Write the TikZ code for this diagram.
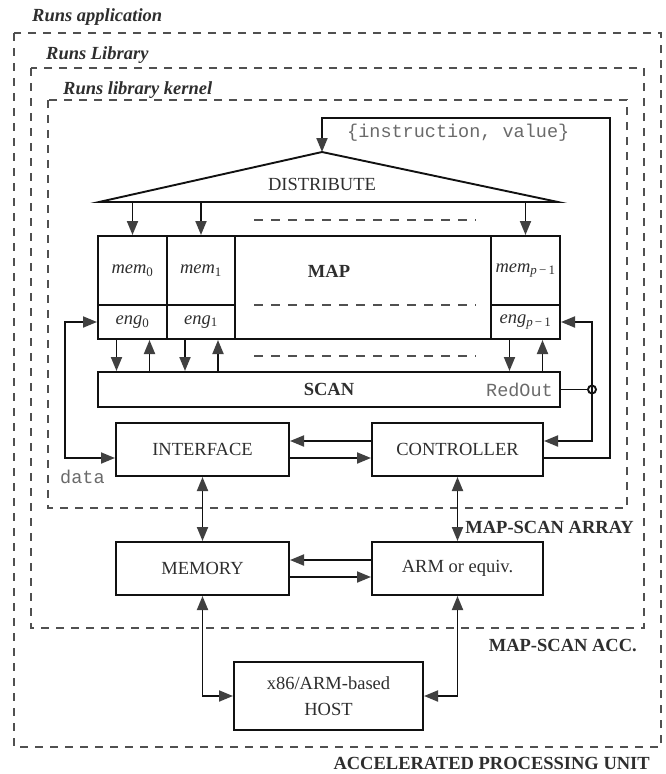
\documentclass[tikz,border=0pt]{standalone}
\usepackage{fontspec}
\setmainfont{Liberation Serif}
\setmonofont{Liberation Mono}
\usetikzlibrary{arrows.meta}
\definecolor{linec}{HTML}{111111}
\definecolor{tipc}{HTML}{404040}
\definecolor{txt}{HTML}{2E2E2E}
\definecolor{dashc}{HTML}{505050}
\definecolor{monoc}{HTML}{6A6A6A}
\tikzset{
  fnt/.style={font=\fontsize{18.5}{26}\selectfont},
  box/.style={draw=linec, line width=2pt, inner sep=0pt, align=center, fnt, text=txt},
  cell/.style={box, font=\fontsize{18.5}{22}\selectfont\itshape},
  grp/.style={draw=dashc, line width=1.3pt, dash pattern=on 8pt off 7pt},
  conn/.style={draw=linec, line width=1.9pt},
  arr/.style={conn, -{Triangle[length=14pt,width=11pt,color=tipc]}},
  darr/.style={conn, {Triangle[length=14pt,width=11pt,color=tipc]}-{Triangle[length=14pt,width=11pt,color=tipc]}},
  lbl/.style={font=\fontsize{18.5}{22}\selectfont\bfseries\itshape, anchor=base west, inner sep=0pt, text=txt},
  tag/.style={font=\fontsize{18.5}{22}\selectfont\bfseries, anchor=base east, inner sep=0pt, text=txt},
  mono/.style={font=\fontsize{18.5}{22}\selectfont\ttfamily, inner sep=0pt, text=monoc},
  plain/.style={fnt, inner sep=0pt, text=txt},
}
\begin{document}
\begin{tikzpicture}[x=1pt,y=-1pt]
\useasboundingbox (0,0) rectangle (665,774);

% grouping boxes
\draw[grp] (14,33) rectangle (661,747);
\draw[grp] (31,68) rectangle (644,628);
\draw[grp] (48,100) rectangle (627,508);
\node[lbl] (tApp) at (32,21) {Runs application};
\node[lbl] (tLib) at (46,59) {Runs Library};
\node[lbl] (tKer) at (63,94) {Runs library kernel};
\node[tag] (tArr) at (634,533) {MAP-SCAN ARRAY};
\node[tag] (tAcc) at (637,651) {MAP-SCAN ACC.};
\node[tag] (tApu) at (650,769) {ACCELERATED PROCESSING UNIT};

% distribute triangle
\coordinate (apex) at (322,152);
\coordinate (bl) at (99,202);
\coordinate (br) at (558,202);
\draw[conn, line join=miter] (apex) -- (br) -- (bl) -- cycle;
\node[plain] (dist) at (322,184) {DISTRIBUTE};

% MAP block
\node[box, minimum width=462pt, minimum height=103pt] (mapblk) at (329,287.5) {};
\node[plain, font=\fontsize{18.5}{22}\selectfont\bfseries] (maplbl) at (329,271) {MAP};
\node[cell, minimum width=69pt, minimum height=69pt] (mem0) at (132.5,270.5) {mem\textsubscript{\upshape 0}};
\node[cell, minimum width=69pt, minimum height=34pt] (eng0) at (132.5,322) {eng\textsubscript{\upshape 0}};
\node[cell, minimum width=68pt, minimum height=69pt] (mem1) at (201,270.5) {mem\textsubscript{\upshape 1}};
\node[cell, minimum width=68pt, minimum height=34pt] (eng1) at (201,322) {eng\textsubscript{\upshape 1}};
\node[cell, minimum width=69pt, minimum height=69pt] (memP) at (525.5,270.5) {mem\textsubscript{p\,\upshape −\,1}};
\node[cell, minimum width=69pt, minimum height=34pt] (engP) at (525.5,322) {eng\textsubscript{p\,\upshape −\,1}};

% SCAN
\node[box, minimum width=462pt, minimum height=35pt, font=\fontsize{18.5}{22}\selectfont\bfseries] (scan) at (329,389.5) {SCAN};
\node[mono, anchor=east] (redout) at (553,390) {RedOut};

% gap dashes
\draw[grp, dash pattern=on 9pt off 8pt] (254,220) -- (476,220);
\draw[grp, dash pattern=on 9pt off 8pt] (254,305) -- (476,305);
\draw[grp, dash pattern=on 9pt off 8pt] (254,356) -- (476,356);

% lower boxes
\node[box, minimum width=173pt, minimum height=53pt] (iface) at (202.5,449.5) {INTERFACE};
\node[box, minimum width=171pt, minimum height=53pt] (ctrl) at (457.5,449.5) {CONTROLLER};
\node[box, minimum width=173pt, minimum height=53pt] (mem) at (202.5,568.5) {MEMORY};
\node[box, minimum width=171pt, minimum height=53pt] (arm) at (457.5,568.5) {ARM or equiv.};
\node[box, minimum width=189pt, minimum height=68pt] (host) at (328.5,696) {x86/ARM-based\\HOST};

% texts
\node[mono, anchor=west] (instr) at (347,133) {\{instruction, value\}};
\node[mono, anchor=west] (data) at (60,477) {data};

% levels
\coordinate (yA) at (0,441);
\coordinate (yB) at (0,458);
\coordinate (yC) at (0,560);
\coordinate (yD) at (0,577);
\coordinate (yT) at (0,118);
\coordinate (xL) at (65,0);
\coordinate (xR) at (592,0);
\coordinate (xT) at (610,0);

% distribute arrows
\foreach \n in {mem0,mem1,memP}
  \draw[arr] (\n.north |- bl) -- (\n.north);

% eng <-> scan
\foreach \n in {eng0,eng1,engP}{
  \draw[arr] ([xshift=-16pt]\n.south) -- ([xshift=-16pt]\n.south |- scan.north);
  \draw[arr] ([xshift=17pt]\n.south |- scan.north) -- ([xshift=17pt]\n.south);
}

% left data loop
\draw[darr] (eng0.west) -- (eng0.west -| xL) -- (xL |- yB) -- (iface.west |- yB);

% right loop
\coordinate (junc) at (scan.east -| xR);
\draw[darr] (engP.east) -- (engP.east -| xR) -- (xR |- yA) -- (ctrl.east |- yA);
\draw[conn] (scan.east) -- ([xshift=-4pt]junc);
\draw[conn] (junc) circle (4pt);

% controller -> distribute
\draw[arr] (ctrl.east |- yB) -- (xT |- yB) -- (xT |- yT) -- (apex |- yT) -- (apex);

% interface <-> controller
\draw[arr] (ctrl.west |- yA) -- (iface.east |- yA);
\draw[arr] (iface.east |- yB) -- (ctrl.west |- yB);

% memory <-> arm
\draw[arr] (arm.west |- yC) -- (mem.east |- yC);
\draw[arr] (mem.east |- yD) -- (arm.west |- yD);

% verticals
\draw[darr] (iface.south) -- (mem.north);
\draw[darr] (ctrl.south) -- (arm.north);
\draw[darr] (mem.south) |- (host.west);
\draw[darr] (arm.south) |- (host.east);
\end{tikzpicture}
\end{document}
